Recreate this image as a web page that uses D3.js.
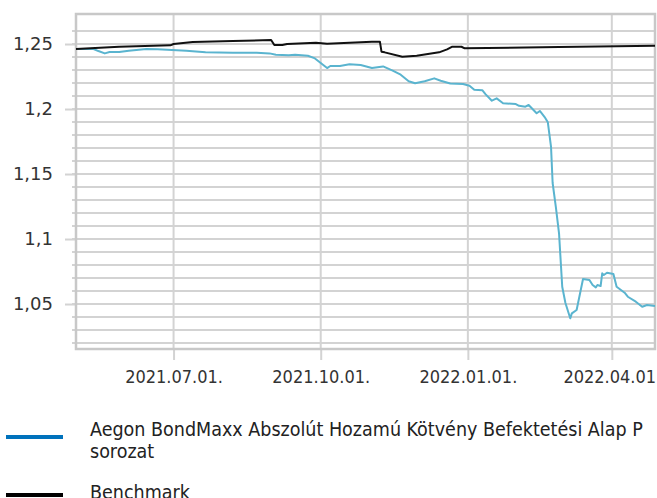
<!DOCTYPE html>
<html>
<head>
<meta charset="utf-8">
<script src="https://cdn.jsdelivr.net/npm/d3@7"></script>
<style>
  html, body { margin: 0; padding: 0; background: #fff; overflow: hidden; }
  svg { display: block; }
</style>
</head>
<body>
<svg id="chart" width="657" height="498"></svg>
<script>
// fund series (P sorozat)
const fundDates = ["2021-05-02","2021-05-12","2021-05-15","2021-05-19","2021-05-22","2021-05-28","2021-06-03","2021-06-14","2021-06-21","2021-06-30",
  "2021-07-09","2021-07-21","2021-08-07","2021-08-22","2021-08-30","2021-09-03","2021-09-11","2021-09-15","2021-09-23","2021-09-27","2021-10-05","2021-10-07",
  "2021-10-13","2021-10-19","2021-10-26","2021-11-02","2021-11-09","2021-11-15","2021-11-20","2021-11-25",
  "2021-11-29","2021-12-05","2021-12-11","2021-12-15","2021-12-21","2021-12-29","2022-01-02","2022-01-05","2022-01-10","2022-01-12",
  "2022-01-16","2022-01-19","2022-01-23","2022-01-31","2022-02-02","2022-02-06","2022-02-08","2022-02-13","2022-02-15","2022-02-18",
  "2022-02-20","2022-02-22","2022-02-23","2022-02-25","2022-02-27","2022-03-01","2022-03-03","2022-03-06","2022-03-07",
  "2022-03-10","2022-03-14","2022-03-18","2022-03-20","2022-03-22","2022-03-23","2022-03-25","2022-03-26","2022-03-27",
  "2022-03-29","2022-04-02","2022-04-04","2022-04-09","2022-04-11","2022-04-16","2022-04-20","2022-04-23","2022-04-28"];
const fundValues = [1.2462,1.2462,1.2446,1.2428,1.2438,1.2438,1.2448,1.2462,1.2459,1.2454,
  1.2448,1.2436,1.2433,1.2433,1.2428,1.2418,1.2413,1.2418,1.2410,1.2392,1.2315,1.2331,
  1.2331,1.2344,1.2338,1.2315,1.2328,1.2295,1.2264,1.2214,
  1.2198,1.2214,1.2236,1.2218,1.2197,1.2192,1.2179,1.2148,1.2145,1.2115,
  1.2064,1.2082,1.2045,1.2038,1.2025,1.2018,1.2031,1.1967,1.1985,1.1938,
  1.1898,1.1708,1.1431,1.1248,1.1044,1.0633,1.0508,1.0390,1.0428,
  1.0454,1.0692,1.0685,1.0646,1.0628,1.0646,1.0638,1.0736,1.0723,
  1.0741,1.0731,1.0633,1.0587,1.0556,1.0518,1.0479,1.0492,1.0485];

// benchmark
const benchDates = ["2021-05-01","2021-05-28","2021-06-29","2021-07-01","2021-07-13","2021-08-07","2021-08-31","2021-09-02","2021-09-07",
  "2021-09-10","2021-09-28","2021-10-05","2021-11-02","2021-11-07","2021-11-08","2021-11-10","2021-11-21","2021-11-30",
  "2021-12-14","2021-12-19","2021-12-22","2021-12-28","2021-12-30","2022-02-27","2022-04-28"];
const benchValues = [1.2462,1.2479,1.2490,1.2500,1.2515,1.2523,1.2531,1.2492,1.2492,
  1.2500,1.2510,1.2502,1.2518,1.2518,1.2441,1.2436,1.2402,1.2410,
  1.2436,1.2459,1.2479,1.2479,1.2467,1.2477,1.2487];

const seriesNames = ["Aegon BondMaxx Abszolút Hozamú Kötvény Befektetési Alap P", "sorozat", "Benchmark"];
const xTickDates = ["2021-07-01","2021-10-01","2022-01-01","2022-04-01"];
const yTicks = [1.05, 1.1, 1.15, 1.2, 1.25];
const yGrid = [1.02,1.03,1.04,1.05,1.06,1.07,1.08,1.09,1.1,1.11,1.12,1.13,1.14,1.15,1.16,1.17,1.18,1.19,1.2,1.21,1.22,1.23,1.24,1.25,1.26];

const parse = d3.timeParse("%Y-%m-%d");
const fmtX = d3.timeFormat("%Y.%m.%d.");
const fmtY = v => String(+v.toFixed(2)).replace(".", ",");

const svg = d3.select("#chart");
const plotLeft = 76, plotRight = 655, plotTop = 14, plotBottom = 349;

const x = d3.scaleTime().domain([parse("2021-05-01"), parse("2022-04-28")]).range([plotLeft, plotRight]);
const y = d3.scaleLinear().domain([1.0154, 1.2731]).range([plotBottom, plotTop]);

const gridColor = "#d3d3d3";

// horizontal gridlines + minor ticks
svg.append("g").selectAll("line").data(yGrid).enter().append("line")
  .attr("x1", plotLeft - 4).attr("x2", plotRight)
  .attr("y1", d => y(d)).attr("y2", d => y(d))
  .attr("stroke", gridColor).attr("stroke-width", 2);

// y axis with major ticks
const yAxis = svg.append("g").attr("transform", `translate(${plotLeft},0)`)
  .call(d3.axisLeft(y).tickValues(yTicks).tickSize(11).tickPadding(12).tickFormat(fmtY));
yAxis.select(".domain").remove();
yAxis.selectAll(".tick line").attr("stroke", gridColor).attr("stroke-width", 2);
yAxis.selectAll("text").attr("fill", "#333").style("font-family", "DejaVu Sans").style("font-size", "18px");

// vertical gridlines
svg.append("g").selectAll("line").data(xTickDates).enter().append("line")
  .attr("x1", d => x(parse(d))).attr("x2", d => x(parse(d)))
  .attr("y1", plotTop).attr("y2", plotBottom)
  .attr("stroke", gridColor).attr("stroke-width", 2);

// x axis
const xAxis = svg.append("g").attr("transform", `translate(0,${plotBottom})`)
  .call(d3.axisBottom(x).tickValues(xTickDates.map(parse)).tickSize(11).tickPadding(10).tickFormat(fmtX));
xAxis.select(".domain").remove();
xAxis.selectAll(".tick line").attr("stroke", gridColor).attr("stroke-width", 2);
xAxis.selectAll("text").attr("fill", "#333").style("font-family", "DejaVu Sans Condensed").style("font-size", "18px");

// plot frame
svg.append("rect").attr("x", plotLeft).attr("y", plotTop).attr("width", plotRight - plotLeft).attr("height", plotBottom - plotTop)
  .attr("fill", "none").attr("stroke", "#c8c8c8").attr("stroke-width", 2.5);

const line = d3.line().x(d => x(d[0])).y(d => y(d[1]));
const fund = fundDates.map((d, i) => [parse(d), fundValues[i]]);
const bench = benchDates.map((d, i) => [parse(d), benchValues[i]]);

svg.append("path").datum(fund).attr("d", line)
  .attr("fill", "none").attr("stroke", "#5ab4cf").attr("stroke-width", 2).attr("stroke-linejoin", "round");
svg.append("path").datum(bench).attr("d", line)
  .attr("fill", "none").attr("stroke", "#111").attr("stroke-width", 2).attr("stroke-linejoin", "round");

// legend
const legend = svg.append("g").style("font-family", "DejaVu Sans Condensed").style("font-size", "19.5px").attr("fill", "#222");
legend.append("line").attr("x1", 6).attr("x2", 63).attr("y1", 437).attr("y2", 437).attr("stroke", "#0072bc").attr("stroke-width", 4);
legend.append("text").attr("x", 90).attr("y", 436).text(seriesNames[0]);
legend.append("text").attr("x", 90).attr("y", 458).text(seriesNames[1]);
legend.append("line").attr("x1", 6).attr("x2", 63).attr("y1", 495).attr("y2", 495).attr("stroke", "#000").attr("stroke-width", 4);
legend.append("text").attr("x", 90).attr("y", 499).text(seriesNames[2]);
</script>
</body>
</html>
